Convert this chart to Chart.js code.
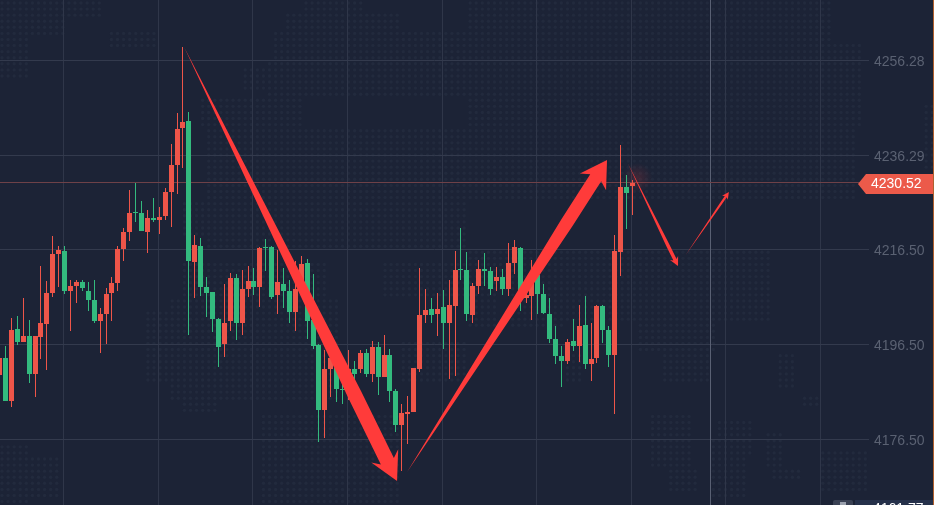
<!DOCTYPE html>
<html>
<head>
<meta charset="utf-8">
<style>html,body{margin:0;padding:0;background:#1c2336;overflow:hidden}canvas{display:block}</style>
<script src="https://cdn.jsdelivr.net/npm/chart.js@4"></script>
</head>
<body>
<canvas id="c" width="934" height="505"></canvas>
<script>
const openPrices = [4190.08,4193.66,4184.60,4199.76,4197.03,4198.29,4190.29,4198.08,4200.82,4207.34,4215.55,4216.18,4207.76,4208.82,4209.66,4207.76,4205.87,4201.45,4202.92,4207.34,4209.45,4216.60,4220.18,4224.39,4224.18,4220.18,4223.13,4222.71,4223.55,4228.60,4234.29,4242.07,4243.54,4213.87,4217.24,4208.61,4207.55,4201.87,4196.61,4201.45,4210.50,4201.03,4208.18,4209.87,4208.61,4217.02,4217.02,4206.92,4209.24,4207.76,4203.34,4208.18,4213.66,4201.66,4196.40,4182.71,4191.34,4191.55,4187.13,4187.97,4191.34,4191.34,4194.71,4190.29,4195.97,4189.66,4194.29,4186.71,4179.56,4181.87,4182.29,4191.34,4202.71,4203.97,4202.92,4204.40,4201.03,4204.60,4212.39,4212.18,4202.71,4208.82,4212.39,4211.97,4209.87,4210.71,4208.18,4213.66,4216.81,4206.29,4206.71,4211.13,4207.13,4202.92,4197.66,4194.08,4193.03,4197.24,4196.19,4200.60,4192.40,4193.66,4204.60,4199.55,4194.29,4215.97,4229.65,4229.86];
const highPrices = [4194.92,4196.19,4202.08,4202.50,4206.29,4201.66,4198.29,4213.03,4209.87,4219.34,4217.24,4217.24,4210.08,4210.08,4210.08,4209.66,4210.08,4204.19,4208.40,4210.71,4217.24,4221.02,4229.02,4230.50,4226.71,4224.81,4227.34,4225.44,4229.44,4238.71,4245.23,4259.12,4245.44,4219.55,4218.92,4210.71,4207.55,4202.08,4209.24,4211.55,4211.34,4212.18,4213.03,4212.60,4217.02,4218.71,4217.24,4216.39,4212.60,4210.08,4214.08,4215.13,4214.50,4211.34,4196.61,4195.34,4196.40,4192.61,4189.66,4195.34,4193.03,4195.34,4195.55,4197.24,4197.03,4198.50,4195.55,4187.13,4183.98,4185.66,4191.55,4212.60,4208.18,4206.29,4207.34,4207.97,4210.08,4216.18,4221.02,4215.97,4209.45,4214.29,4215.76,4212.81,4212.81,4212.39,4217.87,4218.50,4217.02,4208.61,4214.29,4212.18,4209.24,4206.29,4200.39,4196.19,4197.66,4201.87,4204.81,4206.71,4201.03,4204.81,4204.81,4200.39,4219.55,4238.50,4232.18,4231.13];
const lowPrices = [4189.03,4184.60,4183.34,4196.40,4197.03,4188.40,4185.45,4193.45,4191.13,4206.50,4208.61,4207.13,4199.34,4205.24,4207.76,4203.55,4201.03,4194.71,4196.61,4201.45,4207.76,4214.08,4218.29,4222.29,4220.39,4215.76,4222.29,4219.76,4222.71,4221.23,4228.18,4233.65,4198.50,4206.29,4206.71,4202.29,4199.13,4191.76,4193.87,4199.34,4197.45,4198.50,4206.50,4206.92,4204.34,4211.97,4206.08,4202.92,4204.19,4201.03,4199.34,4207.34,4197.66,4195.55,4175.98,4176.82,4185.45,4184.40,4183.98,4184.82,4188.40,4190.50,4189.66,4188.61,4185.87,4189.66,4184.40,4178.08,4169.87,4175.55,4182.29,4190.71,4201.03,4201.03,4198.29,4195.55,4189.24,4189.87,4210.08,4201.45,4201.03,4207.13,4208.82,4206.92,4207.76,4206.92,4206.71,4211.34,4203.55,4205.24,4201.66,4202.92,4202.92,4196.82,4192.40,4187.55,4192.40,4195.13,4192.82,4191.34,4188.82,4192.61,4196.82,4191.76,4181.87,4210.92,4220.81,4223.76];
const closePrices = [4193.66,4184.60,4199.55,4197.03,4198.29,4190.29,4198.29,4201.03,4207.34,4215.55,4216.39,4207.76,4208.82,4209.66,4208.40,4205.87,4201.45,4202.92,4207.13,4209.45,4216.60,4220.18,4224.18,4224.18,4220.39,4223.13,4222.71,4223.34,4228.60,4234.29,4241.86,4243.33,4214.08,4217.44,4208.61,4207.34,4201.87,4195.97,4201.03,4210.50,4201.03,4208.18,4209.87,4208.61,4216.81,4216.81,4206.50,4209.66,4207.76,4203.34,4208.18,4213.45,4201.45,4196.19,4182.71,4191.34,4193.66,4187.13,4186.92,4191.34,4190.29,4194.71,4190.29,4195.97,4189.66,4194.29,4186.71,4179.56,4182.08,4182.29,4191.55,4202.71,4203.76,4202.71,4203.97,4201.03,4204.81,4212.18,4212.18,4202.92,4208.82,4212.39,4211.97,4208.18,4210.71,4208.18,4213.66,4217.02,4207.34,4206.92,4210.71,4207.13,4203.13,4197.66,4194.08,4193.03,4197.03,4196.19,4200.39,4192.40,4193.45,4204.60,4199.55,4194.29,4216.18,4229.65,4228.39,4230.52];

const priceTicks = [4256.28, 4236.29, 4216.50, 4196.50, 4176.50];
const timeGridIndex = [10.8, 26.8, 42.8, 58.8, 74.8, 90.8, 106.8, 122.8, 138.8];
const lastPrice = 4230.52;
const bottomPrice = 4161.77;
const crosshairIndex = 120.2;

// arrows drawn on the chart: from [candle index, price] to [candle index, price]
const arrowFrom = [[31.2, 4259.12], [68.9, 4169.66], [106.2, 4234.70], [116.0, 4215.34]];
const arrowTo   = [[67.2, 4167.77], [102.7, 4235.33], [114.7, 4213.02], [123.3, 4228.60]];

const UP = '#ee5549', DOWN = '#33ba7e', ARROW = '#ff3b3a', BG = '#1c2336';
const isUp = closePrices.map((c, i) => c >= openPrices[i]);
const candleColors = isUp.map(u => u ? UP : DOWN);

// faint dotted world-map decoration (px regions)
const mapRegions = [[0,0,105,18],[0,18,65,35],[0,35,32,70],[0,60,27,80],[110,32,155,50],
 [300,0,365,10],[285,10,400,30],[270,30,310,60],[310,30,467,70],[245,65,300,90],[267,60,467,100],
 [200,95,300,125],[205,125,467,250],[180,200,250,240],[270,205,467,252],
 [467,0,830,200],[830,40,860,130],[830,130,855,200],[925,105,934,170],
 [180,262,330,300],[145,310,240,380],[170,300,340,400],[180,400,215,415],[380,262,467,300],[263,415,400,502],[0,445,30,505],[30,455,60,500],[400,340,467,385],
 [467,252,770,290],[467,290,500,330],[510,260,565,330],[560,290,770,320],[635,320,715,350],[660,350,710,385],[565,350,580,385],
 [650,412,690,470],[670,470,700,490],[715,420,755,455],[710,440,745,500],[765,430,785,470],[770,470,800,480],[820,452,870,490],[780,352,795,390],[800,395,820,410]];

const dotMap = {
  id: 'dotMap',
  beforeDraw(chart) {
    const ctx = chart.ctx;
    ctx.save();
    ctx.fillStyle = BG;
    ctx.fillRect(0, 0, 934, 505);
    ctx.fillStyle = '#222a3d';
    for (let y = 3; y < 505; y += 6.08) {
      for (let x = 2; x < 934; x += 6.08) {
        if (mapRegions.some(r => x >= r[0] && x <= r[2] && y >= r[1] && y <= r[3])) {
          ctx.beginPath();
          ctx.arc(x, y, 1.7, 0, Math.PI * 2);
          ctx.fill();
        }
      }
    }
    ctx.restore();
  }
};

const snapAndLines = {
  id: 'snapAndLines',
  beforeDatasetsDraw(chart) {
    chart.data.datasets.forEach((ds, i) => {
      chart.getDatasetMeta(i).data.forEach(el => {
        el.x = Math.floor(el.x) + 0.5;
        el.y = Math.round(el.y);
        el.base = Math.round(el.base);
        if (el.y === el.base) el.base += 1;
      });
    });
    const ctx = chart.ctx, xs = chart.scales.x, ys = chart.scales.y;
    ctx.save();
    ctx.fillStyle = '#596073';
    ctx.fillRect(Math.floor(xs.getPixelForValue(crosshairIndex)), 0, 1, 505);
    ctx.fillStyle = '#6e4148';
    ctx.fillRect(0, Math.floor(ys.getPixelForValue(lastPrice)), 862, 1);
    ctx.restore();
  }
};

const overlays = {
  id: 'overlays',
  afterDatasetsDraw(chart) {
    const ctx = chart.ctx, xs = chart.scales.x, ys = chart.scales.y;
    const yLast = ys.getPixelForValue(lastPrice);
    // glow near last candle
    const gx = xs.getPixelForValue(openPrices.length - 1) + 5, gy = yLast - 5;
    const g = ctx.createRadialGradient(gx, gy, 0, gx, gy, 15);
    g.addColorStop(0, 'rgba(255,60,60,0.16)');
    g.addColorStop(1, 'rgba(255,60,60,0)');
    ctx.fillStyle = g;
    ctx.fillRect(gx - 15, gy - 15, 30, 30);
    // arrows
    const shapes = [[28, 15, 14.5, 22], [26, 15.5, 13, 21], [9, 4.5, 3.5, 7], [7, 3.5, 2.2, 5.5]];
    ctx.fillStyle = ARROW;
    arrowFrom.forEach((f, i) => {
      const tx = xs.getPixelForValue(f[0]), ty = ys.getPixelForValue(f[1]);
      const hx = xs.getPixelForValue(arrowTo[i][0]), hy = ys.getPixelForValue(arrowTo[i][1]);
      const len = Math.hypot(hx - tx, hy - ty), dx = (hx - tx) / len, dy = (hy - ty) / len;
      const nx = -dy, ny = dx;
      const [hl, hw, sw, notch] = shapes[i];
      const bx = hx - dx * hl, by = hy - dy * hl;
      const sx = hx - dx * notch, sy = hy - dy * notch;
      const mx = tx + dx * len * 0.8, my = ty + dy * len * 0.8;
      ctx.beginPath();
      ctx.moveTo(tx, ty);
      ctx.lineTo(mx + nx * sw / 2, my + ny * sw / 2);
      ctx.lineTo(sx + nx * sw / 2, sy + ny * sw / 2);
      ctx.lineTo(bx + nx * hw, by + ny * hw);
      ctx.lineTo(hx, hy);
      ctx.lineTo(bx - nx * hw, by - ny * hw);
      ctx.lineTo(sx - nx * sw / 2, sy - ny * sw / 2);
      ctx.lineTo(mx - nx * sw / 2, my - ny * sw / 2);
      ctx.closePath();
      ctx.fill();
    });
    // right edge
    ctx.fillStyle = '#b0602e';
    ctx.fillRect(933, 0, 1, 505);
    // last price tag
    const tagY = Math.round(yLast) + 1;
    ctx.fillStyle = '#ec5a4a';
    ctx.beginPath();
    ctx.moveTo(858, tagY);
    ctx.lineTo(866, tagY - 10);
    ctx.lineTo(933, tagY - 10);
    ctx.lineTo(933, tagY + 10);
    ctx.lineTo(866, tagY + 10);
    ctx.closePath();
    ctx.fill();
    ctx.font = '14px "Liberation Sans"';
    ctx.textBaseline = 'middle';
    ctx.textAlign = 'left';
    ctx.fillStyle = '#ffffff';
    ctx.fillText(lastPrice.toFixed(2), 871, tagY + 0.5);
    // bottom tag
    ctx.fillStyle = '#25304a';
    ctx.fillRect(855, 500, 78, 5);
    ctx.fillStyle = '#3a4154';
    ctx.beginPath();
    ctx.roundRect(833, 500, 20, 10, 2);
    ctx.fill();
    ctx.fillStyle = '#9aa0ad';
    ctx.fillRect(840, 502, 6, 3);
    ctx.fillStyle = '#ffffff';
    ctx.fillText(bottomPrice.toFixed(2), 873, ys.getPixelForValue(bottomPrice));
  }
};

const noPadding = s => { s.paddingTop = 0; s.paddingBottom = 0; s.paddingLeft = 0; s.paddingRight = 0; };

new Chart(document.getElementById('c'), {
  type: 'bar',
  data: {
    datasets: [
      { label: 'wick', data: openPrices.map((_, i) => ({ x: i, y: [lowPrices[i], highPrices[i]] })),
        backgroundColor: candleColors, barThickness: 1, borderWidth: 0, inflateAmount: 0, grouped: false, order: 2 },
      { label: 'body', data: openPrices.map((o, i) => ({ x: i, y: [Math.min(o, closePrices[i]), Math.max(o, closePrices[i])] })),
        backgroundColor: candleColors, barThickness: 5, borderWidth: 0, inflateAmount: 0, grouped: false, order: 1 }
    ]
  },
  options: {
    responsive: false,
    animation: false,
    devicePixelRatio: 1,
    layout: { padding: 0 },
    plugins: { legend: { display: false }, tooltip: { enabled: false } },
    scales: {
      x: {
        type: 'linear', offset: false, min: 0.07, max: 146.99,
        afterBuildTicks(s) { s.ticks = timeGridIndex.map(v => ({ value: v })); },
        afterFit(s) { s.height = 0; noPadding(s); },
        grid: { color: '#2f3649', drawTicks: false, offset: false },
        border: { display: false },
        ticks: { display: false, autoSkip: false }
      },
      y: {
        position: 'right', min: 4162.71, max: 4269.015,
        afterBuildTicks(s) { s.ticks = priceTicks.map(v => ({ value: v })); },
        afterFit(s) { s.width = 65; noPadding(s); },
        grid: { color: '#333a4d', drawTicks: false },
        border: { display: false },
        ticks: {
          autoSkip: false, padding: 5, labelOffset: 1.5, color: '#5a6172',
          font: { family: '"Liberation Sans"', size: 14 },
          callback: v => v.toFixed(2)
        }
      }
    }
  },
  plugins: [dotMap, snapAndLines, overlays]
});
</script>
</body>
</html>
